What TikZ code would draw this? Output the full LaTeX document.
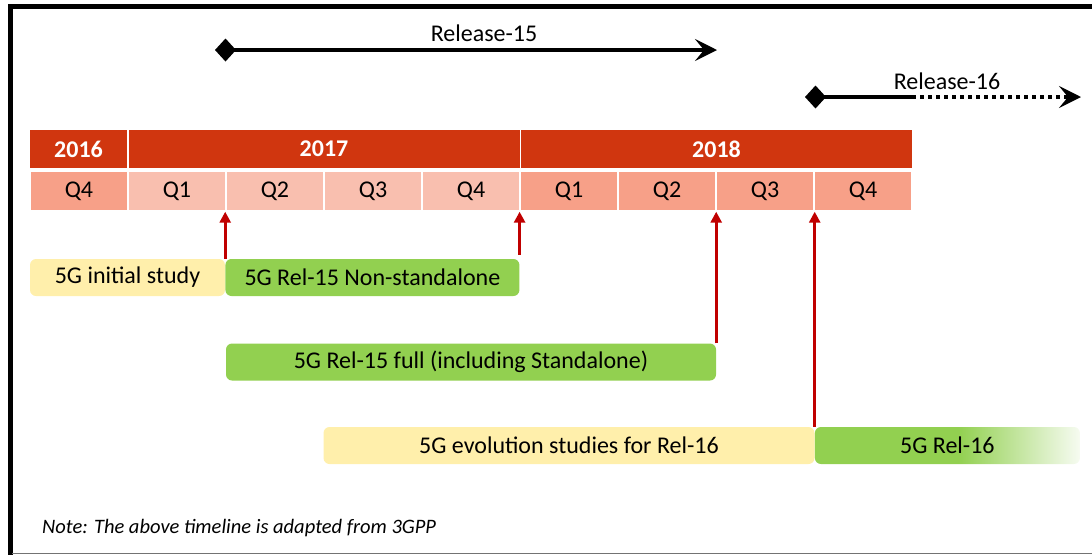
\documentclass[tikz,border=0pt]{standalone}
\usepackage{fontspec}
\setmainfont{Carlito}
\usetikzlibrary{positioning,arrows.meta}
\definecolor{yearred}{HTML}{D0360F}
\definecolor{qlight}{HTML}{F9BFAF}
\definecolor{qsalmon}{HTML}{F7A088}
\definecolor{studyyellow}{HTML}{FFEFAB}
\definecolor{relgreen}{HTML}{92D050}
\definecolor{markred}{HTML}{C00000}
\colorlet{fadeend}{white!92!relgreen}
\pgfdeclarehorizontalshading{relfade}{100bp}{color(0bp)=(relgreen); color(25bp)=(relgreen); color(52bp)=(relgreen); color(75bp)=(fadeend); color(100bp)=(white)}
\newcommand{\tlfont}{\fontsize{24}{28}\selectfont}

\begin{document}
\begin{tikzpicture}[x=1pt, y=-1pt,
    yearcell/.style={fill=yearred, text=white, minimum height=38pt, inner sep=0pt, font=\tlfont\bfseries},
    qcell/.style={minimum width=96pt, minimum height=38pt, inner sep=0pt, font=\tlfont},
    phase/.style={rounded corners=6pt, minimum height=37pt, inner sep=0pt, font=\tlfont},
    study/.style={phase, fill=studyyellow},
    spec/.style={phase, fill=relgreen},
    relline/.style={line width=4pt},
    freeze/.style={markred, line width=3pt, shorten >=1.5pt, -{Triangle[length=11pt, width=11pt]}},
]
\useasboundingbox (0,0) rectangle (1092,555);
% frame
\draw[line width=5pt] (1092,6.5) -- (10,6.5) -- (10,555);
\draw[black!55, line width=1.5pt] (12,553.5) -- (1092,553.5);

% years and quarters
\node[yearcell, minimum width=97pt] (y2016) at (78.5,149) {2016};
\node[yearcell, minimum width=391pt] (y2017) at (324,149) {2017};
\node[yearcell, minimum width=391pt] (y2018) at (716.5,149) {2018};
\foreach \lbl/\col [count=\i from 0] in {Q4/qsalmon, Q1/qlight, Q2/qlight, Q3/qlight, Q4/qlight, Q1/qsalmon, Q2/qsalmon, Q3/qsalmon, Q4/qsalmon}
  \node[qcell, fill=\col] (q\i) at ({79+98*\i},191) {\lbl};

% releases
\coordinate (r15s) at (215,50);
\coordinate (r15e) at (717,50);
\draw[relline, {Diamond[length=21pt, width=23pt]}-{Stealth[length=22pt, width=22pt, inset=9pt]}] (r15s) -- (r15e);
\node[font=\tlfont, inner sep=0pt] (lbl15) at (484,33) {Release-15};

\coordinate (r16s) at (805,97);
\coordinate (r16m) at (912,97);
\coordinate (r16e) at (1081,97);
\draw[relline, {Diamond[length=21pt, width=23pt]}-] (r16s) -- (r16m);
\draw[relline, dash pattern=on 4pt off 4pt, -{Stealth[length=22pt, width=22pt, inset=9pt]}] (r16m) -- (r16e);
\node[font=\tlfont, inner sep=0pt] (lbl16) at (947,81) {Release-16};

% phases
\node[study, minimum width=195pt] (initial) at (127.5,277.5) {5G initial study};
\node[spec, minimum width=294pt, right=0pt of initial] (nsa) {5G Rel-15 Non-standalone};
\node[spec, minimum width=490pt] (full) at (471,362) {5G Rel-15 full (including Standalone)};
\node[study, minimum width=491pt] (evo) at (569,445.5) {5G evolution studies for Rel-16};
\node[phase, shade, shading=relfade, minimum width=265pt, right=0pt of evo] (rel16) {5G Rel-16};

% freeze points
\draw[freeze] (nsa.north west) -- (nsa.north west |- q2.south);
\draw[freeze] (nsa.north east) ++(0,-4) -- (nsa.north east |- q5.south);
\draw[freeze] (full.north east) -- (full.north east |- q7.south);
\draw[freeze] (evo.north east) -- (evo.north east |- q8.south);

\node[anchor=west, inner sep=0pt, font=\fontsize{20.5}{24}\selectfont\itshape] (note) at (42,528) {Note: The above timeline is adapted from 3GPP};
\end{tikzpicture}
\end{document}
